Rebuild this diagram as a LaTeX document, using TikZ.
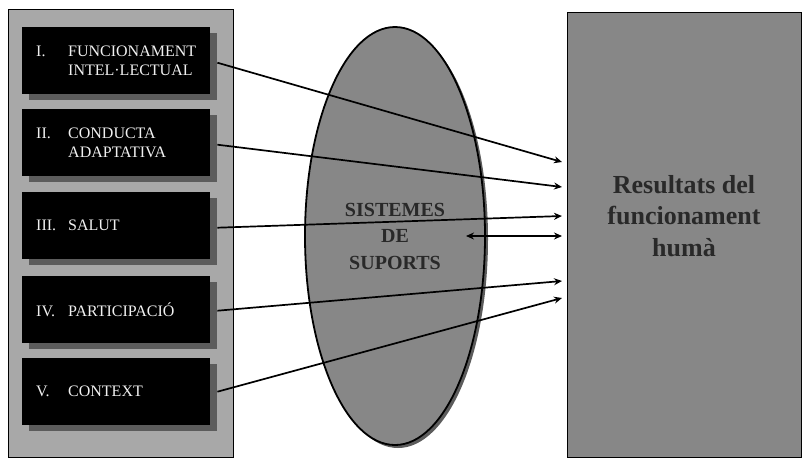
\documentclass[tikz,border=0pt]{standalone}
\usepackage{fontspec}
\setmainfont{Liberation Serif}
\usetikzlibrary{shapes.geometric,shadows,arrows.meta}

\definecolor{panelgray}{gray}{0.66}
\definecolor{midgray}{gray}{0.53}
\definecolor{shadegray}{gray}{0.36}
\definecolor{inkgray}{gray}{0.16}

\newcommand{\dimlabel}[1]{\makebox[32pt][l]{#1}}

\begin{document}
\begin{tikzpicture}[x=1pt,y=-1pt,
  dimbox/.style={fill=black, text=white!94!black, text width=160pt, minimum height=67pt,
    inner xsep=14pt, align=left, anchor=north west, font=\fontsize{16}{18.5}\selectfont,
    drop shadow={shadow xshift=7pt, shadow yshift=-6pt, fill=shadegray, opacity=1}},
  link/.style={-{Stealth[length=8pt,width=7pt]}, line width=1.7pt},
  both/.style={{Stealth[length=8pt,width=7pt]}-{Stealth[length=8pt,width=7pt]}, line width=1.7pt}]
\useasboundingbox (0,0) rectangle (802,459);

% Left panel
\node[draw, line width=1.4pt, fill=panelgray, minimum width=225pt, minimum height=448pt,
  anchor=north west] (panel) at (8,9) {};

% Dimensions
\node[dimbox] (fi) at (22,27) {\dimlabel{I.}FUNCIONAMENT\\\dimlabel{}INTEL·LECTUAL};
\node[dimbox] (ca) at (22,109) {\dimlabel{II.}CONDUCTA\\\dimlabel{}ADAPTATIVA};
\node[dimbox] (sa) at (22,192) {\dimlabel{III.}SALUT};
\node[dimbox] (pa) at (22,276) {\dimlabel{IV.}PARTICIPACIÓ};
\node[dimbox] (co) at (22,358) {\dimlabel{V.}CONTEXT};

% Supports
\node[ellipse, draw, line width=1.8pt, fill=midgray, minimum width=180pt, minimum height=418pt,
  inner sep=0pt, text=inkgray, align=center, font=\bfseries\fontsize{20}{26.5}\selectfont,
  drop shadow={shadow xshift=3pt, shadow yshift=-3pt, fill=shadegray, opacity=1}]
  (sup) at (395,236) {SISTEMES\\DE\\SUPORTS};

% Outcomes
\node[draw, line width=1.4pt, fill=midgray, minimum width=234pt, minimum height=445pt,
  anchor=north west] (res) at (567,12) {};
\node[text=inkgray, align=center, font=\bfseries\fontsize{26}{31.5}\selectfont]
  (restxt) at (684,216) {Resultats del\\funcionament\\humà};

% Arrow ends
\coordinate (e1) at (562,162);
\coordinate (e2) at (562,187);
\coordinate (e3) at (562,216);
\coordinate (e4) at (562,236);
\coordinate (e5) at (562,281);
\coordinate (e6) at (562,298);
\coordinate (d0) at (466,236);

\draw[link] ([xshift=7pt,yshift=-2pt]fi.east) -- (e1);
\draw[link] ([xshift=7pt,yshift=-2pt]ca.east) -- (e2);
\draw[link] ([xshift=7pt,yshift=-2pt]sa.east) -- (e3);
\draw[both] (d0) -- (e4);
\draw[link] ([xshift=7pt,yshift=-1pt]pa.east) -- (e5);
\draw[link] ([xshift=7pt]co.east) -- (e6);

\end{tikzpicture}
\end{document}
